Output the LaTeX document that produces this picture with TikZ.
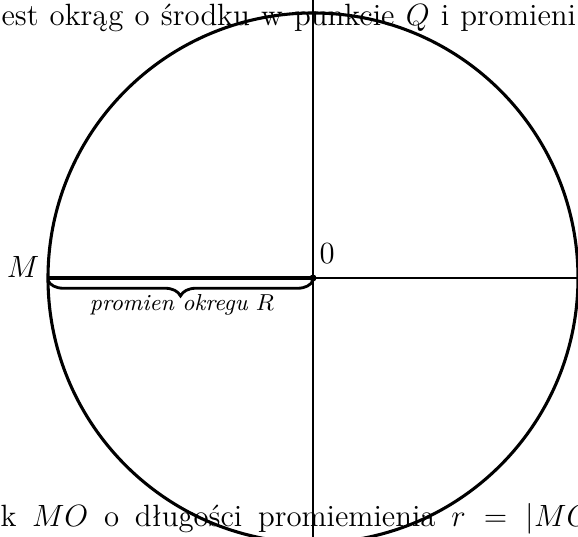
\documentclass[tikz,border=0pt]{standalone}
\usepackage{fontspec}
\usepackage{tikz}
\usetikzlibrary{decorations.pathreplacing,positioning}

\begin{document}
\begin{tikzpicture}[
    x=0.01371cm, y=0.01371cm,
    circleline/.style={line width=1.2pt},
    axisline/.style={line width=0.75pt},
    radiusline/.style={line width=1.6pt},
    radbrace/.style={
      decorate,
      decoration={brace, mirror, amplitude=6pt},
      line width=1.1pt
    },
    pointlabel/.style={font=\large, inner sep=2pt},
    textline/.style={anchor=base west, inner sep=0pt, font=\large}
  ]
    \useasboundingbox (-313,-259) rectangle (265,278);
    \clip (-313,-259) rectangle (265,278);

    \coordinate (O) at (0,0);
    \coordinate (M) at (-265,0);
    \coordinate (E) at (265,0);
    \coordinate (T) at (0,278);
    \coordinate (B) at (0,-259);

    \draw[circleline] (O) circle[radius=265];
    \draw[axisline] (T) -- (B);
    \draw[axisline] (O) -- (E);
    \draw[radiusline] (M) -- (O);
    \fill (O) circle[radius=3.5];

    \draw[radbrace] ([yshift=-1pt]M) -- ([yshift=-1pt]O);

    \node[pointlabel, anchor=base east] (mlabel) at (-268,0) {$M$};
    \node[pointlabel, anchor=south west] (olabel) at (1,8) {0};
    \node[font=\small\itshape] (rlabel) at (-131,-27) {promien okregu $R$};

    \node[textline] (toptext) at (-312,252)
      {\hbox to 224pt{est okrąg o środku w punkcie $Q$ i promieni}};
    \node[textline] (bottomtext) at (-313,-249)
      {\hbox to 230pt{k $MO$ o długości promiemienia $r = |MO$}};
  \end{tikzpicture}
\end{document}
